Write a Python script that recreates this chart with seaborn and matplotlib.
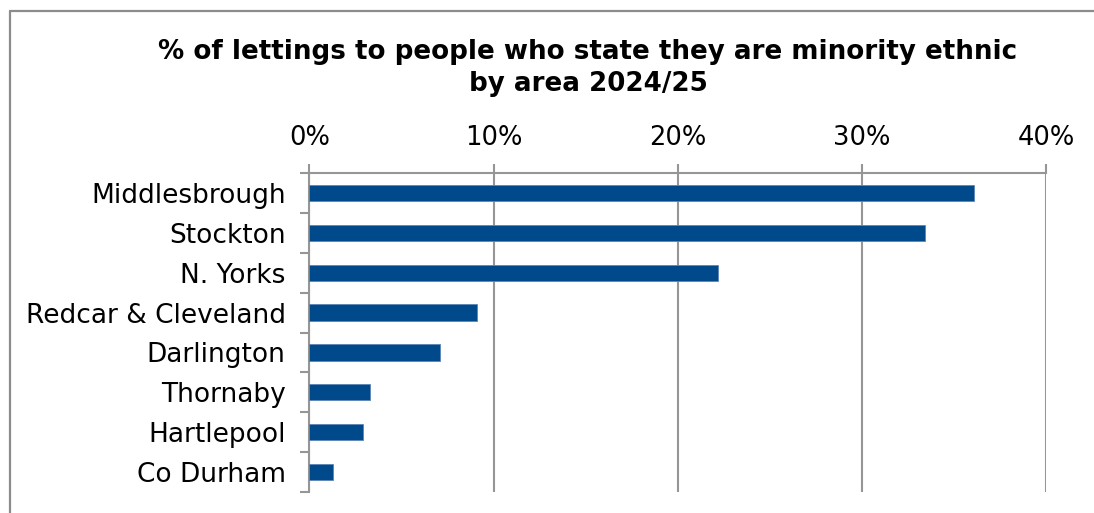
import matplotlib
matplotlib.use("Agg")
import matplotlib.pyplot as plt
from matplotlib.lines import Line2D
from matplotlib.ticker import FixedLocator, PercentFormatter
import seaborn as sns
import pandas as pd

areas = ["Middlesbrough", "Stockton", "N. Yorks", "Redcar & Cleveland",
         "Darlington", "Thornaby", "Hartlepool", "Co Durham"]
pct_minority = [36.1, 33.4, 22.2, 9.1, 7.1, 3.3, 2.9, 1.3]
x_ticks = [0, 10, 20, 30, 40]
title_text = "% of lettings to people who state they are minority ethnic\nby area 2024/25"

df = pd.DataFrame({"area": areas, "pct": pct_minority})

sns.set_theme(style="white")
plt.rcParams["font.family"] = ["DejaVu Sans"]

grid_col = "#969696"
bar_col = "#004A8B"

fig = plt.figure(figsize=(10.94, 5.13), dpi=100)
ax = fig.add_axes([309.3 / 1094, 1 - 492 / 513, (1046.3 - 309.3) / 1094, (492 - 173) / 513])

sns.barplot(data=df, x="pct", y="area", order=areas, color=bar_col, saturation=1,
            width=0.41, edgecolor="#5C86B8", linewidth=0.6, ax=ax, zorder=3)

ax.set_xlim(0, 40)
ax.set_ylim(len(areas) - 0.5, -0.5)
ax.xaxis.set_major_locator(FixedLocator(x_ticks))
ax.xaxis.set_major_formatter(PercentFormatter(decimals=0))
ax.xaxis.tick_top()
ax.grid(axis="x", color=grid_col, linewidth=1.5, zorder=0)
ax.grid(axis="y", visible=False)

ax.tick_params(axis="x", which="major", top=True, bottom=False, length=6.5,
               width=1.5, color=grid_col, pad=9, labelsize=18.5, labelcolor="black")
ax.tick_params(axis="y", which="major", left=False, length=0, pad=17,
               labelsize=19, labelcolor="black")
ax.yaxis.set_minor_locator(FixedLocator([i - 0.5 for i in range(len(areas) + 1)]))
ax.tick_params(axis="y", which="minor", left=True, length=6.5, width=1.5, color=grid_col)

ax.set_xlabel("")
ax.set_ylabel("")
for side in ["right", "bottom"]:
    ax.spines[side].set_visible(False)
for side in ["left", "top"]:
    ax.spines[side].set_color(grid_col)
    ax.spines[side].set_linewidth(1.5)

fig.text(588 / 1094, 1 - 68 / 513, title_text, ha="center", va="center",
         fontsize=18.8, fontweight="bold", color="black", linespacing=1.3)

# chart frame
fig.add_artist(Line2D([10 / 1094, 10 / 1094], [0, 1 - 11 / 513],
                      transform=fig.transFigure, color="#8C8C8C", linewidth=1.6))
fig.add_artist(Line2D([10 / 1094, 1], [1 - 11 / 513, 1 - 11 / 513],
                      transform=fig.transFigure, color="#8C8C8C", linewidth=1.6))

fig.savefig("out.png", dpi=100, facecolor="white")
